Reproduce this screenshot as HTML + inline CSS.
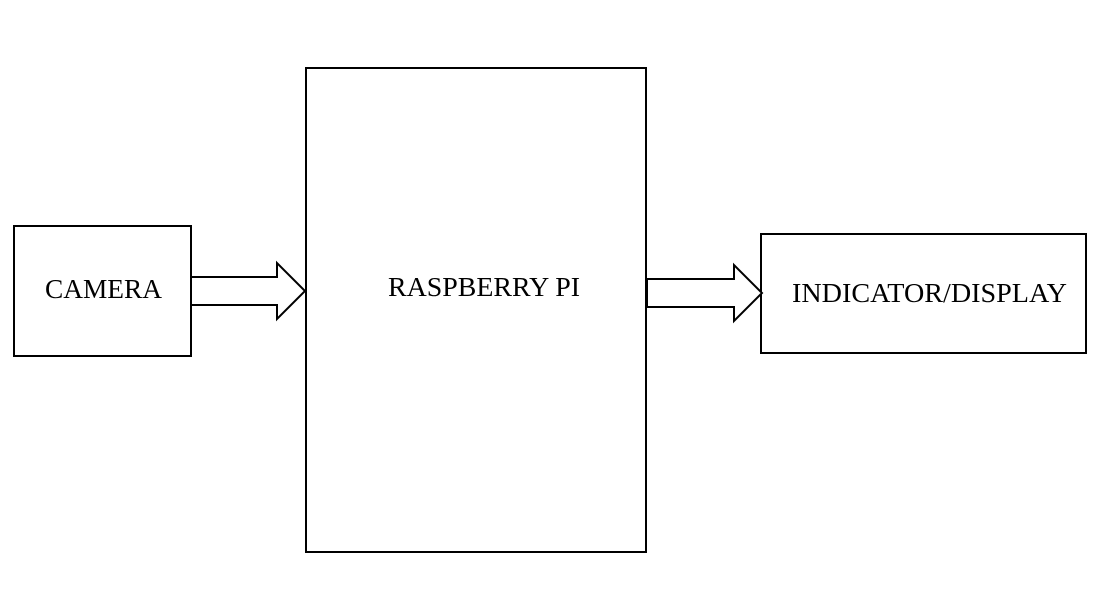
<!DOCTYPE html>
<html><head><style>html,body{margin:0;padding:0;background:#fff}svg{display:block}</style></head><body>
<svg width="1095" height="607" viewBox="0 0 1095 607" xmlns="http://www.w3.org/2000/svg">
<g fill="none" stroke="#000" stroke-width="2">
<rect x="14" y="226" width="177" height="130"/>
<rect x="306" y="68" width="340" height="484"/>
<rect x="761" y="234" width="325" height="119"/>
<polygon points="191,277 277,277 277,263 305,291 277,319 277,305 191,305" fill="#fff"/>
<polygon points="647,279 734,279 734,265 762,293 734,321 734,307 647,307" fill="#fff"/>
</g>
<g font-family="Liberation Serif, serif" font-size="27" fill="#000">
<text x="45" y="298" textLength="117" lengthAdjust="spacingAndGlyphs">CAMERA</text>
<text x="388" y="296" textLength="192" lengthAdjust="spacingAndGlyphs">RASPBERRY PI</text>
<text x="792" y="302" textLength="275" lengthAdjust="spacingAndGlyphs">INDICATOR/DISPLAY</text>
</g>
</svg>
</body></html>
